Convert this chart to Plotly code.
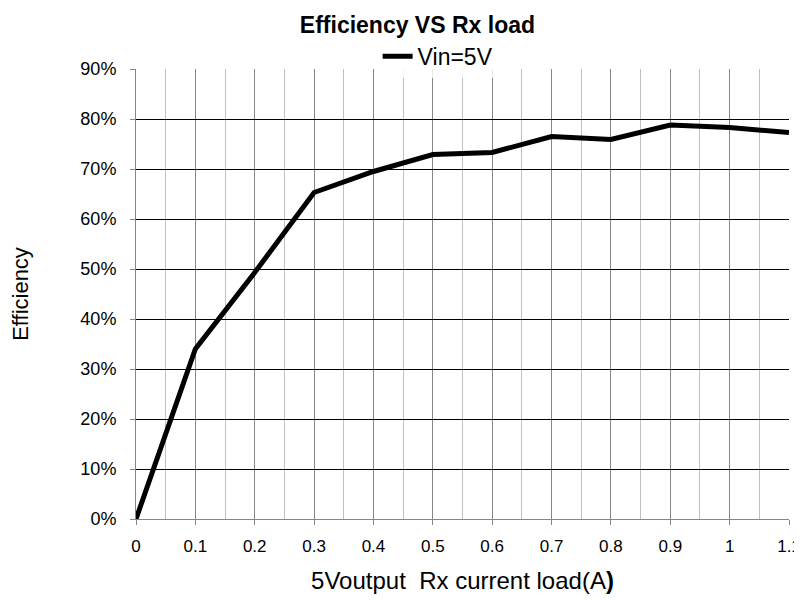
import plotly.graph_objects as go

load_a = [0, 0.1, 0.2, 0.3, 0.4, 0.5, 0.6, 0.7, 0.8, 0.9, 1.0, 1.1]
efficiency = [0.0, 0.34, 0.493, 0.653, 0.695, 0.729, 0.733, 0.765, 0.759, 0.788, 0.783, 0.773]
x_ticks = [0, 0.1, 0.2, 0.3, 0.4, 0.5, 0.6, 0.7, 0.8, 0.9, 1.0, 1.1]
x_labels = ["0", "0.1", "0.2", "0.3", "0.4", "0.5", "0.6", "0.7", "0.8", "0.9", "1", "1.1"]
series_name = "Vin=5V"

fig = go.Figure()
fig.add_trace(go.Scatter(x=load_a, y=efficiency, mode="lines", name=series_name,
                         line=dict(color="black", width=5), cliponaxis=False))

font = "Liberation Sans, Arial, sans-serif"
# page body adds an 8px margin, so the figure is 8px smaller each way
fig.update_layout(
    width=794, height=593,
    margin=dict(l=128, r=13, t=61, b=82, autoexpand=False),
    paper_bgcolor="white", plot_bgcolor="white",
    font=dict(family=font, color="black", size=17),
    title=dict(text="<b>Efficiency VS Rx load</b>", x=0.431, xref="paper", xanchor="center",
               y=0.972, yref="container", yanchor="middle", font=dict(size=23, family=font)),
    showlegend=True,
    legend=dict(x=0.37, xanchor="left", y=1.028, yanchor="middle", orientation="h",
                bgcolor="rgba(255,255,255,0.8)", font=dict(size=23, family=font),
                borderwidth=0),
    xaxis=dict(range=[0, 1.1], tickvals=x_ticks, ticktext=x_labels,
               automargin=False,
               showgrid=True, gridcolor="#868686", gridwidth=1,
               minor=dict(dtick=0.05, showgrid=True, gridcolor="#c0c0c0", gridwidth=1),
               showline=True, linecolor="#868686", linewidth=1,
               ticks="outside", ticklen=5, tickcolor="#868686",
               ticklabelstandoff=7,
               zeroline=False,
               tickfont=dict(size=17),
               title=dict(text="5Voutput  Rx current load(A<b>)</b>", font=dict(size=24), standoff=16)),
    yaxis=dict(range=[0, 0.9], dtick=0.1, tickformat=".0%",
               automargin=False,
               showgrid=True, gridcolor="black", gridwidth=1,
               showline=True, linecolor="#868686", linewidth=1,
               ticks="outside", ticklen=5, tickcolor="#868686",
               ticklabelstandoff=10,
               zeroline=False,
               tickfont=dict(size=18),
               title=dict(text="Efficiency", font=dict(size=22), standoff=46)),
)

fig.write_html("out.html")
